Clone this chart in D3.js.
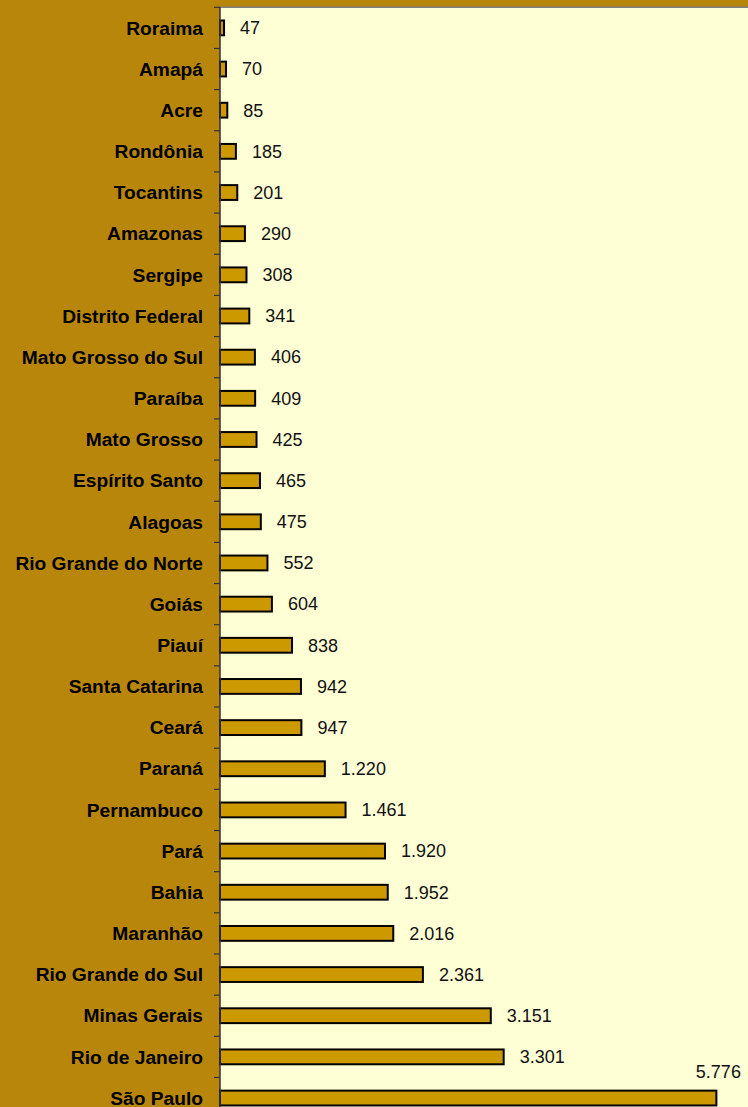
<!DOCTYPE html>
<html>
<head>
<meta charset="utf-8">
<script src="https://cdn.jsdelivr.net/npm/d3@7"></script>
<style>
  html, body { margin: 0; padding: 0; background: #B8860B; }
  svg { display: block; }
</style>
</head>
<body>
<svg id="chart" width="748" height="1107"></svg>
<script>
// Estados, ordenados do menor para o maior valor
const states = [
  "Roraima", "Amapá", "Acre", "Rondônia", "Tocantins", "Amazonas", "Sergipe",
  "Distrito Federal", "Mato Grosso do Sul", "Paraíba", "Mato Grosso",
  "Espírito Santo", "Alagoas", "Rio Grande do Norte", "Goiás", "Piauí",
  "Santa Catarina", "Ceará", "Paraná", "Pernambuco", "Pará", "Bahia",
  "Maranhão", "Rio Grande do Sul", "Minas Gerais", "Rio de Janeiro", "São Paulo"
];
const values = [
  47, 70, 85, 185, 201, 290, 308, 341, 406, 409, 425, 465, 475, 552, 604,
  838, 942, 947, 1220, 1461, 1920, 1952, 2016, 2361, 3151, 3301, 5776
];

const W = 748, H = 1107;
const plotLeft = 220, plotTop = 7.3, step = 41.16;
const plotBottom = plotTop + states.length * step;

const svg = d3.select("#chart");

const ptBR = d3.formatLocale({ decimal: ",", thousands: ".", grouping: [3], currency: ["R$", ""] });
const fmt = ptBR.format(",d");

const x = d3.scaleLinear().domain([0, 6144]).range([plotLeft, W]);
const y = d3.scaleBand()
  .domain(states)
  .range([plotTop, plotBottom])
  .paddingInner(0.64)
  .paddingOuter(0.32);

// plot area
svg.append("rect")
  .attr("x", plotLeft).attr("y", plotTop)
  .attr("width", W - plotLeft).attr("height", H - plotTop)
  .attr("fill", "#FFFFD5");
svg.append("line")
  .attr("x1", plotLeft).attr("x2", W)
  .attr("y1", plotTop).attr("y2", plotTop)
  .attr("stroke", "#808080").attr("stroke-width", 1.5);

// bars
svg.append("g").selectAll("rect")
  .data(states)
  .join("rect")
  .attr("x", x(0))
  .attr("y", d => y(d))
  .attr("width", (d, i) => x(values[i]) - x(0))
  .attr("height", y.bandwidth())
  .attr("fill", "#CC9900")
  .attr("stroke", "#000")
  .attr("stroke-width", 2);

// category axis: line plus ticks on the band boundaries
const axis = svg.append("g");
axis.append("line")
  .attr("x1", plotLeft).attr("x2", plotLeft)
  .attr("y1", plotTop).attr("y2", H)
  .attr("stroke", "#333").attr("stroke-width", 1.5);
axis.selectAll("line.tick")
  .data(d3.range(states.length + 1))
  .join("line")
  .attr("class", "tick")
  .attr("x1", plotLeft - 6).attr("x2", plotLeft)
  .attr("y1", i => plotTop + i * y.step())
  .attr("y2", i => plotTop + i * y.step())
  .attr("stroke", "#333").attr("stroke-width", 1.2);

axis.selectAll("text")
  .data(states)
  .join("text")
  .attr("x", 203)
  .attr("y", d => y(d) + y.bandwidth() / 2)
  .attr("dy", "0.35em")
  .attr("text-anchor", "end")
  .attr("font-family", "Liberation Sans, Arial, sans-serif")
  .attr("font-weight", "bold")
  .attr("font-size", 19.2)
  .attr("fill", "#000")
  .text(d => d);

// value labels; a label that would run past the right edge sits above its bar end
svg.append("g").selectAll("text")
  .data(states)
  .join("text")
  .each(function (d, i) {
    const t = d3.select(this)
      .attr("font-family", "Liberation Sans, Arial, sans-serif")
      .attr("font-size", 18)
      .attr("fill", "#111")
      .text(fmt(values[i]));
    const w = this.getComputedTextLength();
    const xe = x(values[i]);
    if (xe + 16 + w > W) {
      t.attr("x", xe + 2).attr("y", y(d) - 13).attr("text-anchor", "middle");
    } else {
      t.attr("x", xe + 16).attr("y", y(d) + y.bandwidth() / 2).attr("dy", "0.35em");
    }
  });
</script>
</body>
</html>
